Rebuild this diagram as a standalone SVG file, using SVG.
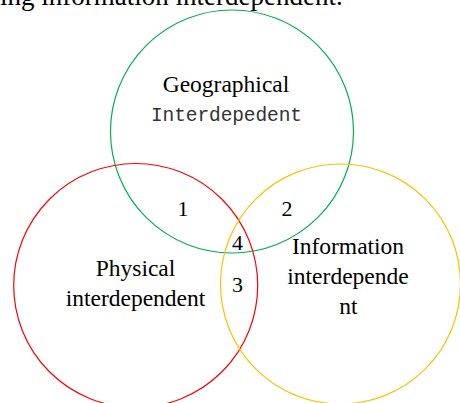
<svg xmlns="http://www.w3.org/2000/svg" width="460" height="403" viewBox="0 0 460 403">
<style>
.c{fill:none;stroke-width:1.2}
.t{font-family:"Liberation Serif","Times New Roman",serif;font-size:23.5px;fill:#000;text-anchor:middle}
.n{font-family:"Liberation Serif","Times New Roman",serif;font-size:22px;fill:#000;text-anchor:middle}
.m{font-family:"Liberation Mono","DejaVu Sans Mono",monospace;font-size:19.5px;fill:#333;text-anchor:middle}
</style>
<rect width="460" height="403" fill="#fff"/>
<text x="0" y="5" style="font-family:'Liberation Serif',serif;font-size:27px;fill:#000">ing information interdependent.</text>
<g id="geographical">
<circle class="c" cx="232" cy="131.5" r="121.5" stroke="#00b050"/>
<text class="t" x="226" y="92">Geographical</text>
<text class="m" x="226.5" y="121" textLength="151">Interdepedent</text>
</g>
<g id="physical">
<circle class="c" cx="135.7" cy="285.5" r="122" stroke="#ff0000"/>
<text class="t" x="135.5" y="276">Physical</text>
<text class="t" x="135.5" y="306">interdependent</text>
</g>
<g id="information">
<circle class="c" cx="340.5" cy="284" r="120" stroke="#ffc000"/>
<text class="t" x="348" y="254">Information</text>
<text class="t" x="348" y="283.5">interdepende</text>
<text class="t" x="348.5" y="314">nt</text>
</g>
<g id="regions">
<text class="n" x="183" y="216">1</text>
<text class="n" x="287" y="216">2</text>
<text class="n" x="237.5" y="292">3</text>
<text class="n" x="237.5" y="250">4</text>
</g>
<g id="connectors"/>
</svg>
